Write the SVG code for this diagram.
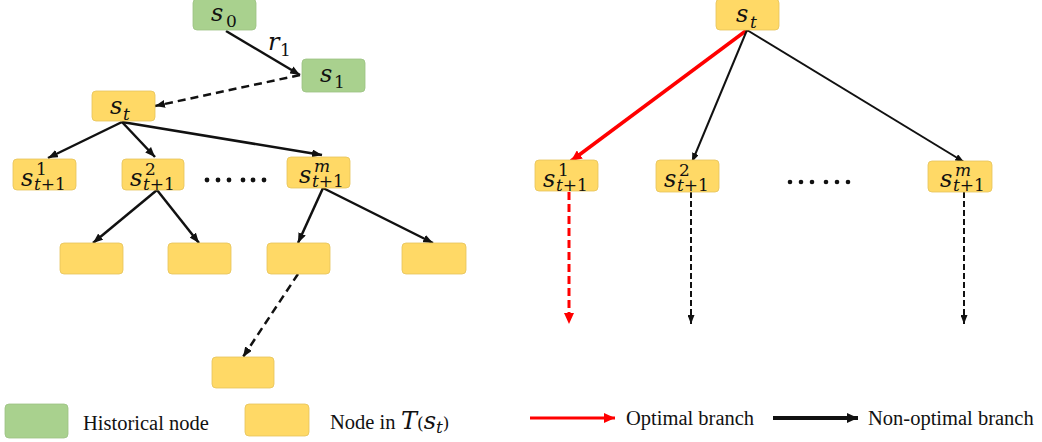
<svg xmlns="http://www.w3.org/2000/svg" width="1042" height="442" viewBox="0 0 1042 442">
  <style>
    .hist { fill: #A9D18E; stroke: #9cc283; stroke-width: 0.8; }
    .tree { fill: #FFD966; stroke: #e6c35a; stroke-width: 0.8; }
    .m { font-family: "DejaVu Serif", "Liberation Serif", serif; font-style: italic; font-size: 24px; fill: #111; }
    .ms { font-family: "DejaVu Serif", "Liberation Serif", serif; font-style: italic; font-size: 17px; fill: #111; }
    .md { font-family: "DejaVu Serif", "Liberation Serif", serif; font-style: normal; font-size: 17px; fill: #111; }
    .lg { font-family: "Liberation Serif", "Times New Roman", serif; font-size: 20.5px; fill: #111; }
    .edge { stroke: #111; stroke-width: 2.5; fill: none; }
    .edge2 { stroke: #111; stroke-width: 2; fill: none; }
    .dash { stroke: #111; stroke-width: 2.5; fill: none; stroke-dasharray: 8 5; }
    .dash2 { stroke: #111; stroke-width: 2; fill: none; stroke-dasharray: 6 3; }
    .opt { stroke: #FF0000; stroke-width: 3.5; fill: none; }
    .optdash { stroke: #FF0000; stroke-width: 3; fill: none; stroke-dasharray: 8 4; }
    .dot { fill: #111; }
  </style>
  <defs>
    <marker id="ah" markerUnits="userSpaceOnUse" viewBox="0 0 10 8" refX="10" refY="4" markerWidth="10" markerHeight="8" orient="auto">
      <path d="M0,0 L10,4 L0,8 z" fill="#111"/>
    </marker>
    <marker id="ahs" markerUnits="userSpaceOnUse" viewBox="0 0 9 7" refX="9" refY="3.5" markerWidth="9" markerHeight="7" orient="auto">
      <path d="M0,0 L9,3.5 L0,7 z" fill="#111"/>
    </marker>
    <marker id="ahr" markerUnits="userSpaceOnUse" viewBox="0 0 11 10" refX="11" refY="5" markerWidth="11" markerHeight="10" orient="auto">
      <path d="M0,0 L11,5 L0,10 z" fill="#FF0000"/>
    </marker>
    <marker id="ahl" markerUnits="userSpaceOnUse" viewBox="0 0 11 10" refX="11" refY="5" markerWidth="11" markerHeight="10" orient="auto">
      <path d="M0,0 L11,5 L0,10 z" fill="#111"/>
    </marker>
  </defs>

  <!-- connectors -->
  <g id="connectors">
    <!-- left tree -->
    <line class="edge" x1="226" y1="31" x2="300" y2="75" marker-end="url(#ah)"/>
    <line class="dash" x1="300" y1="75" x2="155" y2="106" marker-end="url(#ah)"/>
    <line class="edge" x1="122" y1="122" x2="48" y2="158" marker-end="url(#ah)"/>
    <line class="edge" x1="122" y1="122" x2="155" y2="157" marker-end="url(#ah)"/>
    <line class="edge" x1="122" y1="122" x2="322" y2="155" marker-end="url(#ah)"/>
    <line class="edge" x1="157" y1="190" x2="93" y2="243" marker-end="url(#ah)"/>
    <line class="edge" x1="157" y1="190" x2="199" y2="243" marker-end="url(#ah)"/>
    <line class="edge" x1="323" y1="188" x2="298" y2="243" marker-end="url(#ah)"/>
    <line class="edge" x1="323" y1="188" x2="433" y2="243" marker-end="url(#ah)"/>
    <line class="dash" x1="298" y1="274" x2="243" y2="357" marker-end="url(#ah)"/>
    <!-- right tree -->
    <line class="opt" x1="747" y1="30" x2="571" y2="161" marker-end="url(#ahr)"/>
    <line class="edge2" x1="747" y1="30" x2="692" y2="162" marker-end="url(#ahs)"/>
    <line class="edge2" x1="747" y1="30" x2="964" y2="162" marker-end="url(#ahs)"/>
    <line class="optdash" x1="569" y1="192" x2="569" y2="324" marker-end="url(#ahr)"/>
    <line class="dash2" x1="691" y1="192" x2="691" y2="324" marker-end="url(#ahs)"/>
    <line class="dash2" x1="964" y1="192" x2="964" y2="324" marker-end="url(#ahs)"/>
  </g>

  <!-- left tree nodes -->
  <g id="s0">
    <rect class="hist" x="193" y="-1" width="63" height="31" rx="4"/>
    <text><tspan class="m" x="211" y="21">s</tspan><tspan class="md" x="226" y="27">0</tspan></text>
  </g>
  <text id="r1"><tspan class="m" x="268" y="50">r</tspan><tspan class="md" x="280" y="56">1</tspan></text>
  <g id="s1">
    <rect class="hist" x="302" y="59" width="63" height="33" rx="4"/>
    <text><tspan class="m" x="320" y="82">s</tspan><tspan class="md" x="334" y="88">1</tspan></text>
  </g>
  <g id="st-left">
    <rect class="tree" x="92" y="91" width="63" height="30" rx="4"/>
    <text><tspan class="m" x="110" y="114">s</tspan><tspan class="ms" x="123" y="120">t</tspan></text>
  </g>
  <g id="s1-left">
    <rect class="tree" x="13" y="159" width="63" height="31" rx="4"/>
    <text><tspan class="m" x="21" y="186">s</tspan><tspan class="md" x="36" y="175">1</tspan><tspan class="ms" x="34" y="190">t</tspan><tspan class="md">+1</tspan></text>
  </g>
  <g id="s2-left">
    <rect class="tree" x="122" y="159" width="62" height="31" rx="4"/>
    <text><tspan class="m" x="130" y="186">s</tspan><tspan class="md" x="145" y="175">2</tspan><tspan class="ms" x="143" y="190">t</tspan><tspan class="md">+1</tspan></text>
  </g>
  <g id="dots-left">
    <circle class="dot" cx="207" cy="180" r="2.4"/>
    <circle class="dot" cx="218" cy="180" r="2.4"/>
    <circle class="dot" cx="229" cy="180" r="2.4"/>
    <circle class="dot" cx="243" cy="180" r="2.4"/>
    <circle class="dot" cx="253" cy="180" r="2.4"/>
    <circle class="dot" cx="264" cy="180" r="2.4"/>
  </g>
  <g id="sm-left">
    <rect class="tree" x="287" y="157" width="63" height="31" rx="4"/>
    <text><tspan class="m" x="299" y="183">s</tspan><tspan class="ms" x="314" y="172">m</tspan><tspan class="ms" x="312" y="187">t</tspan><tspan class="md">+1</tspan></text>
  </g>
  <g id="leaf-a"><rect class="tree" x="60" y="243" width="63" height="31" rx="4"/></g>
  <g id="leaf-b"><rect class="tree" x="168" y="243" width="63" height="31" rx="4"/></g>
  <g id="leaf-c"><rect class="tree" x="267" y="243" width="63" height="31" rx="4"/></g>
  <g id="leaf-d"><rect class="tree" x="402" y="243" width="64" height="31" rx="4"/></g>
  <g id="leaf-e"><rect class="tree" x="212" y="357" width="62" height="31" rx="4"/></g>

  <!-- right tree nodes -->
  <g id="st-right">
    <rect class="tree" x="716" y="-1" width="63" height="31" rx="4"/>
    <text><tspan class="m" x="736" y="22">s</tspan><tspan class="ms" x="750" y="28">t</tspan></text>
  </g>
  <g id="s1-right">
    <rect class="tree" x="535" y="160" width="63" height="31" rx="4"/>
    <text><tspan class="m" x="543" y="187">s</tspan><tspan class="md" x="558" y="176">1</tspan><tspan class="ms" x="556" y="191">t</tspan><tspan class="md">+1</tspan></text>
  </g>
  <g id="s2-right">
    <rect class="tree" x="656" y="160" width="63" height="32" rx="4"/>
    <text><tspan class="m" x="664" y="187">s</tspan><tspan class="md" x="679" y="176">2</tspan><tspan class="ms" x="677" y="191">t</tspan><tspan class="md">+1</tspan></text>
  </g>
  <g id="dots-right">
    <circle class="dot" cx="790" cy="182" r="2.3"/>
    <circle class="dot" cx="801" cy="182" r="2.3"/>
    <circle class="dot" cx="812" cy="182" r="2.3"/>
    <circle class="dot" cx="826" cy="182" r="2.3"/>
    <circle class="dot" cx="837" cy="182" r="2.3"/>
    <circle class="dot" cx="848" cy="182" r="2.3"/>
  </g>
  <g id="sm-right">
    <rect class="tree" x="928" y="161" width="64" height="31" rx="4"/>
    <text><tspan class="m" x="940" y="187">s</tspan><tspan class="ms" x="955" y="176">m</tspan><tspan class="ms" x="953" y="191">t</tspan><tspan class="md">+1</tspan></text>
  </g>

  <!-- legend -->
  <g id="legend">
    <rect class="hist" x="5" y="404" width="63" height="34" rx="4"/>
    <text class="lg" x="83" y="430">Historical node</text>
    <rect class="tree" x="245" y="404" width="64" height="32" rx="4"/>
    <text class="lg" x="330" y="429">Node in <tspan class="m" font-size="20" x="401">T</tspan><tspan class="md" font-size="20">(</tspan><tspan class="m" font-size="20">s</tspan><tspan class="ms" font-size="14" dy="4">t</tspan><tspan class="md" font-size="20" dy="-4">)</tspan></text>
    <line x1="530" y1="418" x2="615" y2="418" stroke="#FF0000" stroke-width="3" marker-end="url(#ahr)"/>
    <text class="lg" x="626" y="425">Optimal branch</text>
    <line x1="773" y1="418" x2="858" y2="418" stroke="#111" stroke-width="4" marker-end="url(#ahl)"/>
    <text class="lg" x="868" y="425">Non-optimal branch</text>
  </g>
</svg>
